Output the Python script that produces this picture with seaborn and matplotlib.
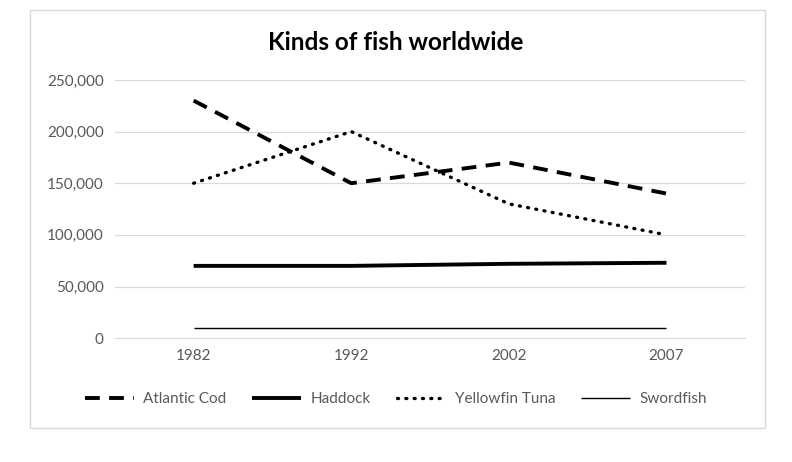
import pandas as pd
import seaborn as sns
import matplotlib.pyplot as plt
from matplotlib.patches import Rectangle
from matplotlib.ticker import FuncFormatter

years = ["1982", "1992", "2002", "2007"]
atlantic_cod = [230000, 150000, 170000, 140000]
haddock = [70000, 70000, 72000, 73000]
yellowfin_tuna = [150000, 200000, 130000, 100000]
swordfish = [10000, 10000, 10000, 10000]

series = {
    "Atlantic Cod": atlantic_cod,
    "Haddock": haddock,
    "Yellowfin Tuna": yellowfin_tuna,
    "Swordfish": swordfish,
}

# line look for each series
styles = {
    "Atlantic Cod": dict(lw=2.8, ls=(0, (3.8, 2.4)), capstyle="butt"),
    "Haddock": dict(lw=2.8, ls="-", capstyle="butt"),
    "Yellowfin Tuna": dict(lw=2.4, ls=(0, (0.3, 2.2)), capstyle="round"),
    "Swordfish": dict(lw=1.0, ls="-", capstyle="butt"),
}

sns.set_style("white")
plt.rcParams["font.family"] = ["Lato", "DejaVu Sans"]

fig = plt.figure(figsize=(7.92, 4.62), dpi=100)
ax = fig.add_axes([0.145, 0.268, 0.796, 0.559])

# light chart border like the Excel chart area
fig.patches.append(Rectangle((0.038, 0.074), 0.928, 0.904, transform=fig.transFigure,
                             fill=False, edgecolor="#d9d9d9", linewidth=1.0))

pos = list(range(len(years)))
for name, vals in series.items():
    st = styles[name]
    df = pd.DataFrame({"x": pos, "y": vals})
    sns.lineplot(data=df, x="x", y="y", ax=ax, color="black", linewidth=st["lw"],
                 linestyle=st["ls"], label=name, solid_capstyle=st["capstyle"],
                 dash_capstyle=st["capstyle"])

ax.set_xlim(-0.5, len(years) - 0.5)
ax.set_ylim(0, 250000)
ax.set_yticks(range(0, 250001, 50000))
ax.yaxis.set_major_formatter(FuncFormatter(lambda v, p: f"{int(v):,}"))
ax.set_xticks(pos)
ax.set_xticklabels(years)
ax.set_xlabel("")
ax.set_ylabel("")
ax.grid(axis="y", color="#d9d9d9", linewidth=0.9)
for s in ["top", "right", "left"]:
    ax.spines[s].set_visible(False)
ax.spines["bottom"].set_color("#d9d9d9")
ax.tick_params(axis="both", length=0, labelsize=11, labelcolor="#595959", pad=8)

fig.text(0.5, 0.909, "Kinds of fish worldwide", ha="center", va="center",
         fontsize=17.5, fontweight="bold", color="black")

ax.legend(loc="center", bbox_to_anchor=(0.5, 0.136), bbox_transform=fig.transFigure,
          ncol=4, frameon=False, fontsize=11, handlelength=3.2, columnspacing=1.7,
          handletextpad=0.6, labelcolor="#595959")

fig.savefig("out.png", dpi=100, facecolor="white")
